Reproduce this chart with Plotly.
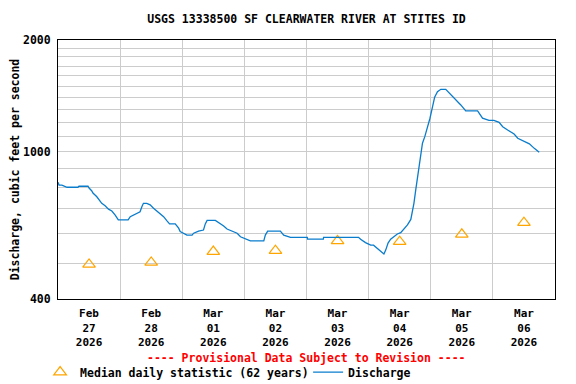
import math
import pandas as pd
import plotly.graph_objects as go

# ---- data -------------------------------------------------------------
start = "2026-02-27 00:00"
# hours since start, discharge in cfs
discharge_hours = [0.0, 0.4, 1.5, 3.5, 7.7, 8.1, 11.6, 12.0, 13.0, 13.5, 15.0, 16.0, 16.9,
                   18.2, 19.5, 20.8, 22.1, 23.3, 24.0, 27.1, 27.9, 29.8, 31.7, 32.4, 33.0,
                   34.3, 35.6, 36.9, 38.2, 39.5, 40.8, 42.1, 43.1, 45.3, 46.6, 47.2, 48.5,
                   49.8, 51.8, 52.4, 54.3, 56.2, 56.9, 57.6, 60.8, 62.1, 64.0, 65.3, 67.2,
                   69.2, 70.5, 72.4, 74.3, 79.5, 80.1, 81.0, 85.9, 87.2, 89.8, 96.3, 96.4,
                   102.5, 102.6, 116.1, 116.9, 118.8, 120.8, 121.9, 123.4, 124.6, 125.9,
                   126.6, 127.5, 128.5, 129.8, 131.1, 132.4, 133.7, 135.0, 136.3, 136.9,
                   137.5, 138.2, 138.9, 139.5, 140.1, 140.8, 141.7, 142.7, 143.7, 144.7,
                   145.5, 146.6, 147.9, 149.8, 151.1, 152.4, 154.3, 155.6, 157.2, 157.5,
                   162.1, 163.4, 164.0, 166.5, 168.4, 170.4, 171.8, 173.7, 176.2, 177.6,
                   180.1, 182.1, 184.0, 185.9]
discharge_cfs = [826, 812, 812, 801, 801, 806, 806, 797, 784, 773, 755, 737, 725,
                 714, 699, 691, 674, 654, 654, 654, 667, 679, 688, 710, 725,
                 725, 718, 703, 692, 681, 667, 650, 638, 638, 621, 608, 602,
                 595, 595, 602, 610, 614, 638, 652, 652, 644, 630, 618, 610,
                 602, 589, 580, 574, 574, 595, 610, 610, 595, 587, 587, 580,
                 580, 587, 587, 580, 568, 559, 559, 548, 537, 529,
                 542, 566, 580, 589, 599, 604, 617, 634, 656, 688,
                 725, 788, 855, 920, 990, 1053, 1097, 1155, 1230, 1322,
                 1401, 1451, 1472, 1472, 1442, 1412, 1363, 1336, 1295, 1287,
                 1287, 1247, 1230, 1214, 1214, 1199, 1167, 1143, 1115, 1086,
                 1064, 1049, 1020, 996]

day_dates = ["2026-02-27", "2026-02-28", "2026-03-01", "2026-03-02",
             "2026-03-03", "2026-03-04", "2026-03-05", "2026-03-06"]
day_labels = ["Feb<br>27<br>2026", "Feb<br>28<br>2026", "Mar<br>01<br>2026", "Mar<br>02<br>2026",
              "Mar<br>03<br>2026", "Mar<br>04<br>2026", "Mar<br>05<br>2026", "Mar<br>06<br>2026"]
median_cfs = [496, 502, 537, 540, 574, 571, 598, 643]

y_ticks = list(range(400, 2001, 100))
y_labels = ["400" if v == 400 else "1000" if v == 1000 else "2000" if v == 2000 else "" for v in y_ticks]

# ---- figure -----------------------------------------------------------
t0 = pd.Timestamp(start)
discharge_time = t0 + pd.to_timedelta(discharge_hours, unit="h")
noon_times = pd.to_datetime(day_dates) + pd.Timedelta(hours=12)

FONT = "DejaVu Sans Mono"
W, H = 560, 376  # page body has an 8px margin in the viewer
fig = go.Figure()
fig.add_trace(go.Scatter(
    x=noon_times, y=median_cfs, mode="markers",
    name="Median daily statistic (62 years)",
    marker=dict(symbol="triangle-up-open", size=11, color="#FFA500",
                line=dict(width=1.2, color="#FFA500")),
))
fig.add_trace(go.Scatter(
    x=discharge_time, y=discharge_cfs, mode="lines", name="Discharge",
    line=dict(color="#0A7CCC", width=1.3),
))

fig.update_layout(
    width=W, height=H,
    margin=dict(l=50, r=13, t=32, b=85, autoexpand=False),
    paper_bgcolor="white", plot_bgcolor="white",
    font=dict(family=FONT, size=11.5, color="black", weight="bold"),
    title=dict(text="USGS 13338500 SF CLEARWATER RIVER AT STITES ID",
               x=0.5, xref="paper", xanchor="center",
               y=1 - 11 / H, yanchor="middle",
               font=dict(family=FONT, size=11.5, color="black", weight="bold")),
    showlegend=True,
    legend=dict(orientation="h", x=-0.036, xanchor="left", y=-0.282, yanchor="middle",
                font=dict(family=FONT, size=11.5, color="black", weight="bold"),
                bgcolor="rgba(0,0,0,0)", borderwidth=0, itemclick=False,
                tracegroupgap=0, entrywidth=223, entrywidthmode="pixels"),
)

fig.update_xaxes(
    type="date", automargin=False,
    range=[t0, t0 + pd.Timedelta(days=8)],
    tickmode="array", tickvals=noon_times, ticktext=day_labels,
    tickfont=dict(family=FONT, size=11, color="black", weight="bold"),
    ticks="outside", ticklen=4, tickcolor="rgba(0,0,0,0)",
    showgrid=False,
    minor=dict(tickmode="linear", tick0=t0, dtick=86400000, showgrid=True,
               gridcolor="#CCCCCC", gridwidth=1, ticks=""),
    showline=True, linecolor="black", linewidth=1, mirror=True,
    zeroline=False,
)

fig.update_yaxes(
    type="log", automargin=False,
    range=[math.log10(400), math.log10(2000)],
    tickmode="array", tickvals=y_ticks, ticktext=y_labels,
    tickfont=dict(family=FONT, size=11.5, color="black", weight="bold"),
    ticks="outside", ticklen=4, tickcolor="rgba(0,0,0,0)",
    showgrid=True, gridcolor="#CCCCCC", gridwidth=1,
    showline=True, linecolor="black", linewidth=1, mirror=True,
    zeroline=False,
    title=dict(text="Discharge, cubic feet per second", standoff=7,
               font=dict(family=FONT, size=11.5, color="black", weight="bold")),
)

fig.add_annotation(
    text="---- Provisional Data Subject to Revision ----",
    xref="paper", yref="paper", x=0.5, y=(291 - 350) / 259,
    xanchor="center", yanchor="middle", showarrow=False,
    font=dict(family=FONT, size=11.5, color="#FF0000", weight="bold"),
)

fig.write_html("out.html")
